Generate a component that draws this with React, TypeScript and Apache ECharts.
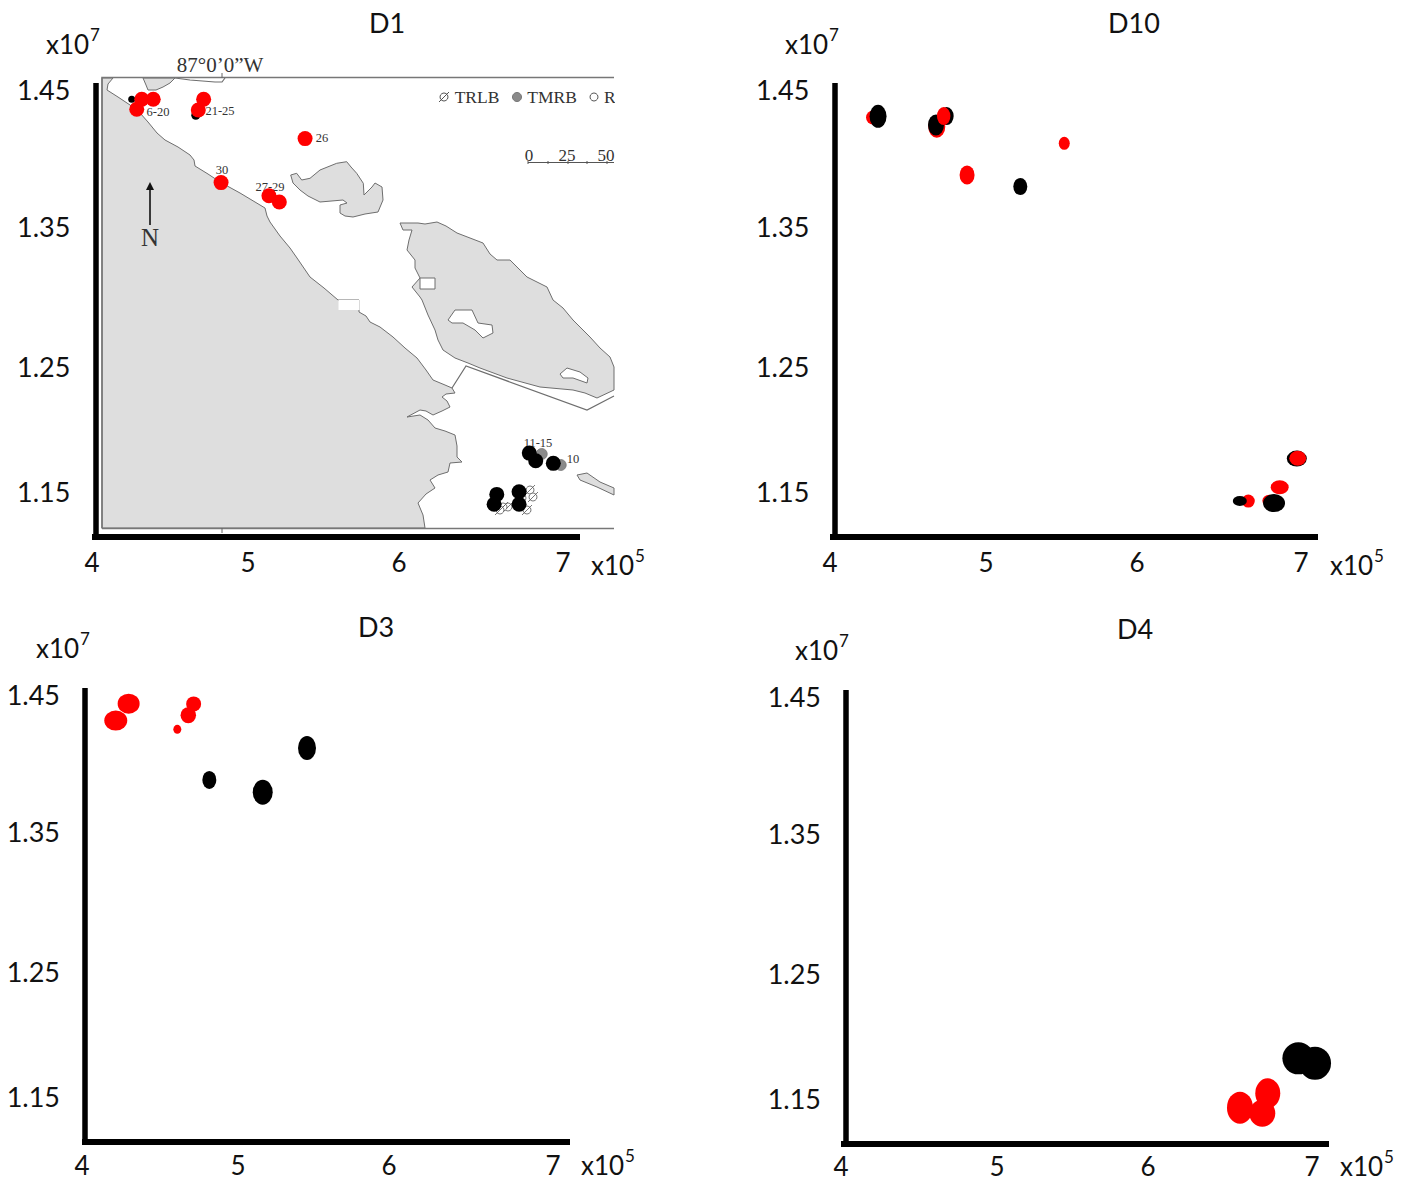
import React, { useEffect, useRef } from "react";
import * as echarts from "echarts";

// ---------- tick labels ----------
const xTickLabels = ["4", "5", "6", "7"];
const yTickLabels = ["1.45", "1.35", "1.25", "1.15"];
// where the labels sit along the axes of the figure (hand-placed, so not quite even)
const xTickAt = [4, 4.994, 5.955, 7];
const yTickAt = [1.45, 1.3475, 1.2428, 1.15];

// ---------- D1 ----------
const d1BlackTop = [[4.253, 1.443], [4.661, 1.4311]];
const d1Red = [[4.317, 1.443], [4.39, 1.443], [4.285, 1.4356], [4.711, 1.443], [4.677, 1.435], [5.357, 1.4136], [4.822, 1.3807], [5.127, 1.3709], [5.193, 1.3662]];
const d1BlackLow = [[6.785, 1.1784], [6.826, 1.1727], [6.938, 1.1707], [6.578, 1.1475], [6.561, 1.1401], [6.72, 1.1495], [6.72, 1.1401]];

// ---------- D10 ----------
const d10RedUnder = [[4.274, 1.4294], [4.68, 1.4225], [6.798, 1.1428], [6.664, 1.1425], [5.492, 1.4101], [4.873, 1.3864], [6.864, 1.1528]];
const d10Black = [[4.306, 1.4303], [4.675, 1.4238], [4.743, 1.4305], [5.212, 1.3777], [6.973, 1.1743], [6.828, 1.141], [6.61, 1.1425]];
const d10RedOver = [[4.724, 1.4305], [6.979, 1.1745]];

// ---------- D3 ----------
const d3Red = [[4.297, 1.4435], [4.215, 1.4308], [4.711, 1.4433], [4.677, 1.4348], [4.607, 1.4243]];
const d3Black = [[4.811, 1.3864], [5.151, 1.3772], [5.433, 1.4104]];

// ---------- D4 ----------
const d4Black = [[6.913, 1.1797], [7.019, 1.176]];
const d4Red = [[6.541, 1.1428], [6.683, 1.1386], [6.718, 1.1535]];

// ---------- marker sizes ----------
const S15 = [15, 15];
const d1BlackTopSizes = [[7, 7], [9, 9]];
const d1RedSizes = [S15, S15, S15, S15, S15, S15, S15, S15, S15];
const d1BlackLowSizes = [S15, S15, S15, S15, S15, S15, S15];
const d10RedUnderSizes = [[14, 14], [17, 22], [14, 12], [13, 13], [11, 13], [15, 19], [18, 14]];
const d10BlackSizes = [[17, 23], [16, 21], [14, 18], [14, 17], [20, 16], [22, 18], [14, 10]];
const d10RedOverSizes = [[13.5, 18], [17, 15]];
const d3RedSizes = [[22, 20], [23, 20], [15, 15], [15.5, 16], [8, 9]];
const d3BlackSizes = [[14, 18], [20, 25], [18, 24]];
const d4BlackSizes = [[32, 32], [32, 33]];
const d4RedSizes = [[26, 32], [26, 27], [25, 30]];

// ---------- panel layout ----------
const panelNames = ["D1", "D10", "D3", "D4"];
const panelLeft = [92, 830, 82, 841];
const panelTop = [83, 83, 688, 690];
const panelAxisShift = [3.4, 4.3, 3, 5];
const panelLabelMargin = [14, 14, 12, 11];
const titleAt = [[387, 22], [1134, 22], [376, 626], [1135, 628]];
const xExpAt = [[591, 565], [1330, 565], [581, 1165], [1340, 1166]];
const yExpAt = [[46, 44], [785, 44], [36, 648], [795, 650]];

// ---------- background map outlines (a picture behind D1, in page pixels) ----------
const mapMainland = [[102, 78], [113, 78], [108, 84], [107, 90], [118, 97], [130, 105], [140, 113], [148, 122], [157, 133], [165, 140], [178, 147], [190, 155], [194, 160], [195, 166], [208, 174], [220, 182], [240, 193], [255, 202], [265, 208], [267, 216], [270, 222], [280, 236], [290, 248], [297, 258], [310, 277], [324, 288], [338, 300], [359, 300], [359, 312], [366, 316], [370, 322], [380, 327], [393, 337], [405, 348], [417, 358], [426, 370], [433, 380], [445, 385], [452, 388], [455, 393], [446, 394], [442, 397], [447, 401], [450, 407], [442, 411], [433, 415], [426, 411], [420, 410], [407, 417], [420, 415], [428, 420], [435, 428], [445, 431], [455, 435], [457, 446], [457, 457], [462, 462], [450, 463], [448, 472], [438, 475], [430, 480], [435, 488], [426, 494], [418, 503], [423, 515], [425, 528], [102, 528]];
const mapTopPatch = [[143, 78], [146, 85], [148, 90], [156, 90], [163, 87], [170, 83], [175, 78]];
const mapPeninsula = [[290.7, 175], [296.7, 173.3], [301.7, 180], [310, 178.3], [320, 170], [336.7, 163.3], [346.7, 161.7], [351, 167], [356.7, 173.3], [363.3, 183.3], [364, 195], [372, 187], [375, 183], [382, 187], [383, 200], [378, 212], [365, 214], [353, 217], [345, 216], [340, 213], [340, 205], [347, 203], [343, 200], [320, 202], [308, 196], [300, 190], [293, 183]];
const mapIsland = [[400, 223], [418, 223], [425, 224], [437, 222], [446, 226], [457, 233], [470, 238], [483, 243], [490, 254], [497, 260], [510, 260], [518, 268], [527, 277], [547, 287], [553, 300], [563, 308], [573, 320], [590, 337], [600, 348], [610, 357], [614, 367], [614, 390], [597, 398], [585, 393], [573, 390], [540, 387], [507, 378], [480, 368], [468, 363], [455, 358], [443, 350], [438, 340], [435, 330], [428, 315], [422, 300], [420, 297], [412, 287], [420, 278], [415, 268], [415, 260], [407, 250], [409, 240], [412, 230], [403, 230]];
const mapLake = [[448, 320], [455, 310], [472, 310], [478, 323], [492, 325], [493, 333], [483, 338], [475, 330], [463, 323], [452, 323]];
const mapPond = [[420, 278], [435, 278], [435, 289], [420, 289]];
const mapMarsh = [[560, 374], [567, 368], [580, 372], [588, 378], [587, 383], [573, 378], [563, 378]];
const mapSmallIsland = [[577, 475], [587, 473], [600, 482], [614, 488], [614, 495], [597, 487], [580, 480]];
const mapBoundary = [[452, 388], [466, 366], [587, 410], [614, 396]];
const mapShoreStrip = [[175, 78], [190, 80], [215, 82], [222, 82], [225, 78]];

// small station glyphs under the dots of D1, and the words printed on the map
const mapHatched = [[530, 490], [533, 497], [508, 507], [527, 510], [503, 507], [522, 498], [500, 510]];
const mapGrey = [[541.7, 454], [560.7, 465]];
const mapTexts: [string, number, number, number][] = [
  ["87°0’0”W", 220, 65, 21], ["TRLB", 477, 97, 17.5], ["TMRB", 552, 97, 17.5],
  ["6-20", 158, 112, 12.5], ["21-25", 220, 111, 12.5], ["26", 322, 138, 12.5], ["30", 222, 170, 12.5],
  ["27-29", 270, 187, 12.5], ["11-15", 538, 443, 12.5], ["10", 573, 459, 12.5],
  ["0", 529, 155, 17], ["25", 567, 155, 17], ["50", 606, 155, 17], ["N", 150, 237, 25],
];

const OVAL = "path://M1,0A1,1,0,1,1,-1,0A1,1,0,1,1,1,0Z";
const UI_FONT = "Lato";
const MAP_FONT = "Liberation Serif";
const GREY = "#6e6e6e";

function scatter(grid: number, data: number[][], sizes: number[][], color: string) {
  return {
    type: "scatter",
    xAxisIndex: grid,
    yAxisIndex: grid,
    data,
    symbol: OVAL,
    symbolSize: (_v: unknown, p: { dataIndex: number }) => sizes[p.dataIndex],
    itemStyle: { color, opacity: 1 },
    clip: false,
    silent: true,
  };
}

function poly(points: number[][], fill: string, z = 0) {
  return { type: "polygon", z, silent: true, shape: { points }, style: { fill, stroke: GREY, lineWidth: 1 } };
}
function line(points: number[][], color = GREY, lineWidth = 1.2) {
  return { type: "polyline", z: 1, silent: true, shape: { points }, style: { fill: "none", stroke: color, lineWidth } };
}
function exponent(base: string, exp: string, x: number, y: number) {
  return [
    {
      type: "text", x, y, z: 5, silent: true,
      style: { text: base, fontFamily: UI_FONT, fontSize: 26, lineHeight: 20, fill: "#111", align: "left", verticalAlign: "middle" },
    },
    {
      type: "text", x: x + 44, y: y - 10, z: 5, silent: true,
      style: { text: exp, fontFamily: UI_FONT, fontSize: 17, lineHeight: 18, fill: "#111", align: "left", verticalAlign: "middle" },
    },
  ];
}

function mapGraphics() {
  const g: any[] = [
    poly(mapMainland, "#dedede"), poly(mapTopPatch, "#dedede"), poly(mapPeninsula, "#dedede"),
    poly(mapIsland, "#dedede"), poly(mapLake, "#fff", 1), poly(mapPond, "#fff", 1), poly(mapMarsh, "#fff", 1),
    poly(mapSmallIsland, "#dedede"),
    line(mapBoundary), line(mapShoreStrip),
    { type: "rect", z: 1, silent: true, shape: { x: 338.5, y: 300, width: 21, height: 10 }, style: { fill: "#fff" } },
    line([[102, 528.5], [102, 77.5], [614, 77.5]], "#777", 1.6),
    line([[102, 528.5], [614, 528.5]], "#777", 1.6),
    line([[222, 528], [222, 533]], "#666", 1),
    line([[222, 73], [222, 78]], "#666", 1),
    { type: "rect", z: 2, silent: true, shape: { x: 615, y: 70, width: 14, height: 462 }, style: { fill: "#fff" } },
    // north arrow
    line([[150, 225], [150, 190]], "#111", 1.6),
    { type: "polygon", z: 1, silent: true, shape: { points: [[150, 182], [146, 190], [154, 190]] }, style: { fill: "#111" } },
    // scale bar
    line([[528, 162.5], [614, 162.5]], "#555", 1.2),
    ...[528, 548, 568, 587, 607].map((x) => line([[x, 161], [x, 164]], "#555", 1)),
    // legend glyphs
    { type: "circle", z: 1, silent: true, shape: { cx: 444, cy: 97, r: 4 }, style: { fill: "#fff", stroke: "#555", lineWidth: 1 } },
    line([[439, 102], [449, 92]], "#555", 1),
    { type: "circle", z: 1, silent: true, shape: { cx: 517, cy: 97, r: 4.5 }, style: { fill: "#8a8a8a", stroke: "#777", lineWidth: 1 } },
    { type: "circle", z: 1, silent: true, shape: { cx: 594, cy: 97, r: 4 }, style: { fill: "#fff", stroke: "#555", lineWidth: 1 } },
    {
      type: "text", z: 1, silent: true, x: 604, y: 97,
      style: { text: "R", fontFamily: MAP_FONT, fontSize: 17.5, fill: "#333", verticalAlign: "middle" },
    },
  ];
  mapHatched.forEach(([cx, cy]) => {
    g.push({ type: "circle", z: 1, silent: true, shape: { cx, cy, r: 4 }, style: { fill: "#fff", stroke: "#555", lineWidth: 0.8 } });
    g.push(line([[cx - 5, cy + 5], [cx + 5, cy - 5]], "#555", 0.8));
  });
  mapGrey.forEach(([cx, cy]) => {
    g.push({ type: "circle", z: 1, silent: true, shape: { cx, cy, r: 5.5 }, style: { fill: "#8a8a8a", stroke: "#777", lineWidth: 0.8 } });
  });
  mapTexts.forEach(([text, x, y, fontSize]) => {
    g.push({
      type: "text", z: 1, silent: true, x, y,
      style: { text, fontFamily: MAP_FONT, fontSize, fill: "#333", align: "center", verticalAlign: "middle" },
    });
  });
  return g;
}

export default function App() {
  const ref = useRef<HTMLDivElement>(null);
  useEffect(() => {
    if (!ref.current) return;
    const chart = echarts.init(ref.current, null, { renderer: "svg" });
    const xMin = 4, xMax = 7.108, yMin = 1.116, yMax = 1.4552;
    chart.setOption({
      animation: false,
      backgroundColor: "#fff",
      title: panelNames.map((text, i) => ({
        text, left: titleAt[i][0] - 5, top: titleAt[i][1] - 18, textAlign: "center",
        textStyle: { fontFamily: UI_FONT, fontSize: 27, fontWeight: "normal", color: "#111" },
      })),
      grid: panelNames.map((_, i) => ({ left: panelLeft[i], top: panelTop[i], width: 488, height: 453.5 })),
      xAxis: panelNames.map((_, i) => ({
        type: "value", gridIndex: i, min: xMin, max: xMax, splitLine: { show: false },
        axisLine: { show: true, onZero: false, lineStyle: { color: "#000", width: 6, cap: "butt" } },
        axisTick: { show: false },
        axisLabel: {
          customValues: xTickAt, margin: panelLabelMargin[i], fontFamily: UI_FONT, fontSize: 26, lineHeight: 22, color: "#111",
          formatter: (v: number) => xTickLabels[xTickAt.indexOf(v)],
        },
      })),
      yAxis: panelNames.map((_, i) => ({
        type: "value", gridIndex: i, min: yMin, max: yMax, splitLine: { show: false },
        offset: -panelAxisShift[i],
        axisLine: { show: true, onZero: false, lineStyle: { color: "#000", width: 5.5, cap: "butt" } },
        axisTick: { show: false },
        axisLabel: {
          customValues: yTickAt, margin: 25, fontFamily: UI_FONT, fontSize: 27, color: "#111",
          formatter: (v: number) => yTickLabels[yTickAt.indexOf(v)],
        },
      })),
      series: [
        scatter(0, d1BlackTop, d1BlackTopSizes, "#000"),
        scatter(0, d1Red, d1RedSizes, "#ff0000"),
        scatter(0, d1BlackLow, d1BlackLowSizes, "#000"),
        scatter(1, d10RedUnder, d10RedUnderSizes, "#ff0000"),
        scatter(1, d10Black, d10BlackSizes, "#000"),
        scatter(1, d10RedOver, d10RedOverSizes, "#ff0000"),
        scatter(2, d3Red, d3RedSizes, "#ff0000"),
        scatter(2, d3Black, d3BlackSizes, "#000"),
        scatter(3, d4Black, d4BlackSizes, "#000"),
        scatter(3, d4Red, d4RedSizes, "#ff0000"),
      ],
      graphic: [
        ...mapGraphics(),
        ...panelNames.flatMap((_, i) => exponent("x10", "5", xExpAt[i][0], xExpAt[i][1])),
        ...panelNames.flatMap((_, i) => exponent("x10", "7", yExpAt[i][0], yExpAt[i][1])),
      ],
    });
    return () => chart.dispose();
  }, []);
  return <div ref={ref} style={{ position: "absolute", left: 0, top: 0, width: 1408, height: 1181 }} />;
}
